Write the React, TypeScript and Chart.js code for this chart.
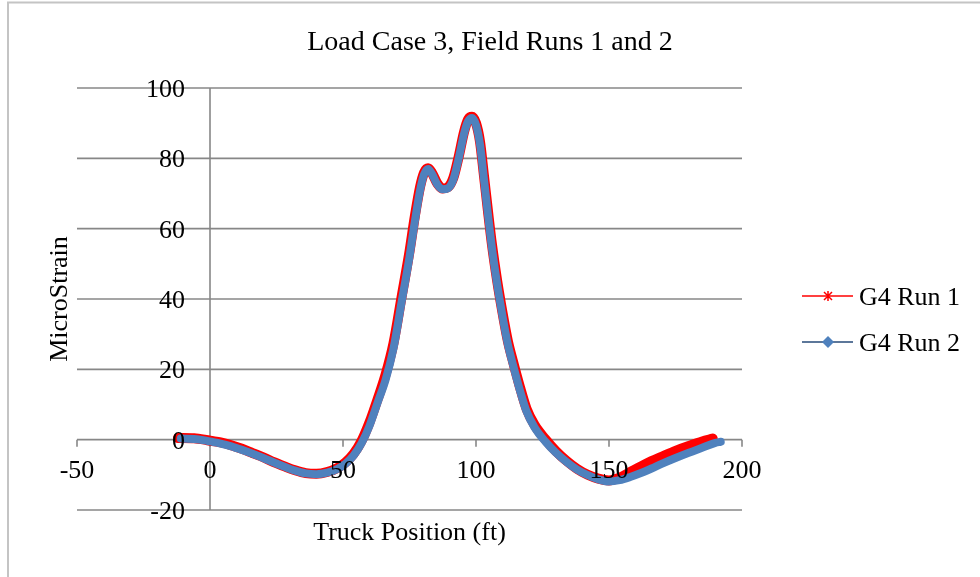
import React, { useEffect, useRef } from "react";
import { Chart, registerables } from "chart.js";

Chart.register(...registerables);

const chartTitle = "Load Case 3, Field Runs 1 and 2";
const xAxisTitle = "Truck Position (ft)";
const yAxisTitle = "MicroStrain";
const seriesNames = ["G4 Run 1", "G4 Run 2"];
const xTicks = [-50, 0, 50, 100, 150, 200];
const yTicks = [-20, 0, 20, 40, 60, 80, 100];

const xRun1 = [-12, -6, -2, 0, 4, 8, 12, 16, 20, 24, 28, 32, 36, 40, 44, 48, 51, 54, 57, 60, 63, 66, 69, 72, 75, 77, 79, 80.5, 82, 83.5, 85.5, 87.5, 89.5, 91.5, 93.5, 95.5, 97, 98.5, 100, 101.5, 103, 104.5, 106, 108, 110, 112, 114, 116.5, 119, 122, 126, 130, 134, 138, 142, 146, 150, 154, 158, 162, 166, 170, 175, 180, 185, 189];
const yRun1 = [0.5, 0.4, 0.0, -0.3, -0.8, -1.6, -2.6, -3.8, -5.0, -6.4, -7.6, -8.7, -9.5, -9.7, -9.2, -8.0, -6.4, -4.0, -0.3, 5.0, 11.5, 18.5, 27.5, 40.5, 53.5, 63.5, 72.0, 76.0, 77.2, 75.8, 72.8, 71.4, 71.8, 74.5, 80.5, 87.5, 91.0, 91.8, 90.0, 84.8, 75.0, 65.0, 55.5, 45.0, 36.0, 28.0, 22.0, 15.0, 8.8, 4.2, 0.2, -3.2, -6.0, -8.3, -10.0, -11.1, -11.6, -10.8, -9.2, -7.6, -6.1, -4.8, -3.2, -1.8, -0.5, 0.3];

const xRun2 = [-11, -6, -2, 0, 4, 8, 12, 16, 20, 24, 28, 32, 36, 40, 44, 48, 51, 54, 57, 60, 63, 66, 69, 72, 75, 77, 79, 80.5, 82, 83.5, 85.5, 87.5, 89.5, 91.5, 93.5, 95.5, 97, 98.5, 100, 101.5, 103, 104.5, 106, 108, 110, 112, 114, 116.5, 119, 122, 126, 130, 134, 138, 142, 146, 150, 154, 158, 162, 166, 170, 175, 180, 185, 190, 192];
const yRun2 = [0.3, 0.2, -0.2, -0.5, -1.1, -1.9, -2.9, -4.0, -5.2, -6.5, -7.7, -8.8, -9.6, -9.8, -9.4, -8.3, -6.8, -4.5, -1.0, 4.0, 10.5, 17.0, 26.0, 39.0, 52.0, 62.0, 71.0, 75.5, 77.0, 75.5, 72.5, 71.2, 71.5, 74.0, 80.0, 87.0, 90.5, 91.5, 89.5, 84.0, 74.0, 64.0, 54.5, 44.0, 35.0, 27.0, 21.0, 14.0, 8.0, 3.5, -0.5, -3.7, -6.3, -8.5, -10.1, -11.3, -11.9, -11.5, -10.6, -9.5, -8.2, -6.8, -5.2, -3.7, -2.3, -0.9, -0.6];

const RED = "#FF0000";
const BLUE = "#4F81BD";
const NAVY = "#264a78";
const GRID = "#878787";
const FONT = '"Liberation Serif", "Times New Roman", serif';

const excelPlugin = {
  id: "excelLook",
  beforeDatasetsDraw(chart: any) {
    const { ctx } = chart;
    const xs = chart.scales.x;
    const ys = chart.scales.y;
    ctx.save();
    // chart frame
    ctx.strokeStyle = "#c4c4c4";
    ctx.lineWidth = 2;
    ctx.beginPath();
    ctx.moveTo(8, 600);
    ctx.lineTo(8, 2.5);
    ctx.lineTo(1000, 2.5);
    ctx.stroke();
    // horizontal gridlines
    ctx.strokeStyle = GRID;
    ctx.lineWidth = 1.6;
    for (const v of yTicks) {
      const py = ys.getPixelForValue(v);
      ctx.beginPath();
      ctx.moveTo(xs.left, py);
      ctx.lineTo(xs.right, py);
      ctx.stroke();
    }
    // vertical axis at x = 0
    const px0 = xs.getPixelForValue(0);
    ctx.beginPath();
    ctx.moveTo(px0, ys.getPixelForValue(100));
    ctx.lineTo(px0, ys.getPixelForValue(-20));
    ctx.stroke();
    // x tick marks on the y = 0 axis
    const py0 = ys.getPixelForValue(0);
    for (const v of xTicks) {
      const px = xs.getPixelForValue(v);
      ctx.beginPath();
      ctx.moveTo(px, py0);
      ctx.lineTo(px, py0 + 7);
      ctx.stroke();
    }
    ctx.restore();
  },
  afterDatasetsDraw(chart: any) {
    const { ctx } = chart;
    const xs = chart.scales.x;
    const ys = chart.scales.y;
    ctx.save();
    ctx.fillStyle = "#000";
    ctx.font = `26px ${FONT}`;
    ctx.textBaseline = "alphabetic";
    // y tick labels
    ctx.textAlign = "right";
    for (const v of yTicks) {
      ctx.fillText(String(v), 185, ys.getPixelForValue(v) + 9);
    }
    // x tick labels
    ctx.textAlign = "center";
    const py0 = ys.getPixelForValue(0);
    for (const v of xTicks) {
      ctx.fillText(String(v), xs.getPixelForValue(v), py0 + 38);
    }
    // x axis title
    ctx.fillText(xAxisTitle, (xs.left + xs.right) / 2, 540);
    // y axis title
    ctx.save();
    ctx.translate(67, (ys.top + ys.bottom) / 2);
    ctx.rotate(-Math.PI / 2);
    ctx.textAlign = "center";
    ctx.fillText(yAxisTitle, 0, 0);
    ctx.restore();
    // chart title
    ctx.font = `28px ${FONT}`;
    ctx.textAlign = "center";
    ctx.fillText(chartTitle, 490, 50);
    // legend
    ctx.font = `26px ${FONT}`;
    ctx.textAlign = "left";
    const legendY = [296, 342];
    const lineColors = [RED, NAVY];
    seriesNames.forEach((name, i) => {
      const ly = legendY[i];
      ctx.strokeStyle = lineColors[i];
      ctx.lineWidth = 1.5;
      ctx.beginPath();
      ctx.moveTo(802, ly);
      ctx.lineTo(853, ly);
      ctx.stroke();
      const cx = 828;
      if (i === 0) {
        ctx.strokeStyle = RED;
        ctx.lineWidth = 1.5;
        ctx.beginPath();
        ctx.moveTo(cx, ly - 5);
        ctx.lineTo(cx, ly + 5);
        ctx.moveTo(cx - 4, ly - 4);
        ctx.lineTo(cx + 4, ly + 4);
        ctx.moveTo(cx + 4, ly - 4);
        ctx.lineTo(cx - 4, ly + 4);
        ctx.stroke();
      } else {
        ctx.fillStyle = BLUE;
        ctx.beginPath();
        ctx.moveTo(cx, ly - 6);
        ctx.lineTo(cx + 6, ly);
        ctx.lineTo(cx, ly + 6);
        ctx.lineTo(cx - 6, ly);
        ctx.closePath();
        ctx.fill();
      }
      ctx.fillStyle = "#000";
      ctx.fillText(name, 859, ly + 9);
    });
    ctx.restore();
  },
};

export default function App() {
  const canvasRef = useRef<HTMLCanvasElement | null>(null);

  useEffect(() => {
    if (!canvasRef.current) return;
    const chart = new Chart(canvasRef.current, {
      type: "line",
      data: {
        datasets: [
          {
            label: seriesNames[0],
            data: xRun1.map((x, i) => ({ x, y: yRun1[i] })),
            borderColor: RED,
            backgroundColor: RED,
            borderWidth: 10,
            pointRadius: 0,
            cubicInterpolationMode: "monotone",
            borderCapStyle: "round",
            borderJoinStyle: "round",
            fill: false,
            order: 2,
          },
          {
            label: seriesNames[1],
            data: xRun2.map((x, i) => ({ x, y: yRun2[i] })),
            borderColor: BLUE,
            backgroundColor: BLUE,
            borderWidth: 8,
            pointRadius: 0,
            cubicInterpolationMode: "monotone",
            borderCapStyle: "round",
            borderJoinStyle: "round",
            fill: false,
            order: 1,
          },
        ],
      },
      options: {
        responsive: false,
        animation: false,
        layout: { padding: { left: 77, right: 238, top: 88, bottom: 67 } },
        plugins: {
          legend: { display: false },
          title: { display: false },
          tooltip: { enabled: false },
        },
        scales: {
          x: { type: "linear", min: -50, max: 200, display: false },
          y: { type: "linear", min: -20, max: 100, display: false },
        },
      },
      plugins: [excelPlugin],
    } as any);
    return () => chart.destroy();
  }, []);

  return (
    <div style={{ position: "fixed", left: 0, top: 0, width: 980, height: 577, background: "#fff" }}>
      <canvas ref={canvasRef} width={980} height={577} style={{ display: "block" }} />
    </div>
  );
}
